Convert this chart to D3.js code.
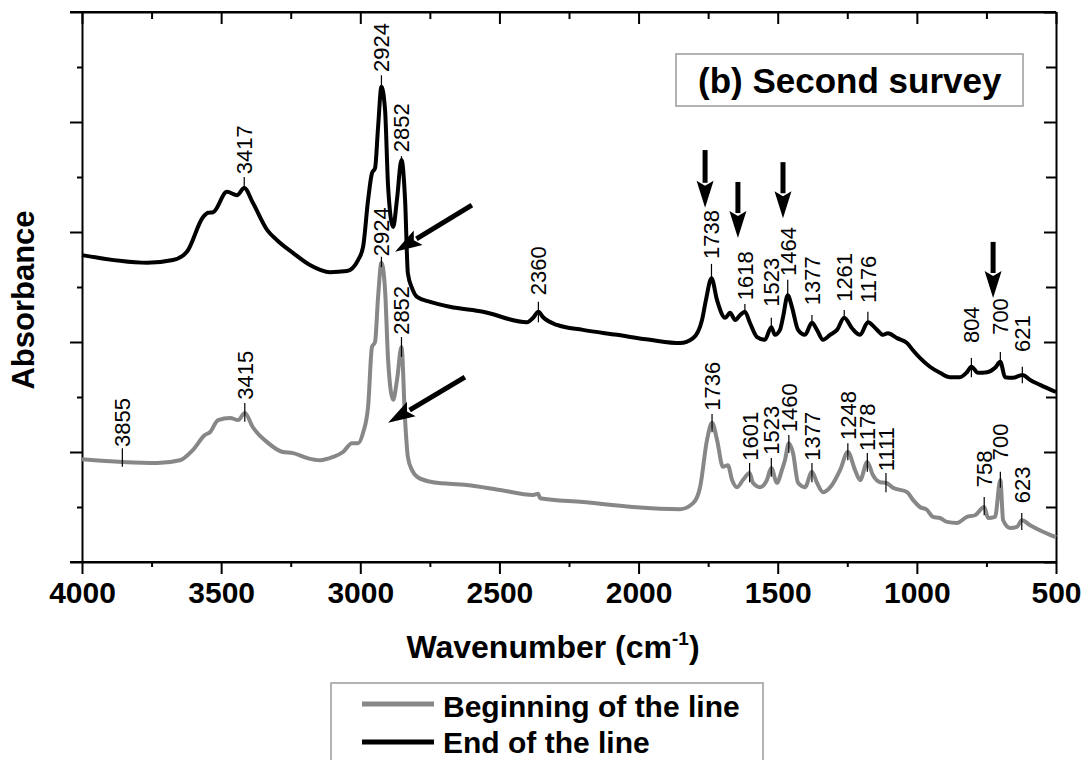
<!DOCTYPE html>
<html><head><meta charset="utf-8">
<script src="https://cdn.jsdelivr.net/npm/d3@7"></script>
<style>
body{margin:0;background:#fff}
text{font-family:"Liberation Sans",Arial,Helvetica,sans-serif;fill:#000}
</style>
</head><body>
<svg id="chart" width="1088" height="760"></svg>
<script>
// ---- data ----
const xTickValues = [4000,3500,3000,2500,2000,1500,1000,500];
const xMinorValues = [3750,3250,2750,2250,1750,1250,750];

const seriesNames = ["Beginning of the line","End of the line"];
const seriesColors = ["#878787","#000000"];

const endWn = [4000,3766,3673,3623,3565,3547,3529,3479,3443,3417,3386,3335,3299,3242,3181,3109,3048,3008,2990,2972,2958,2947,2936,2924,2911,2900,2882,2868,2852,2839,2829,2814,2796,2749,2678,2559,2401,2379,2360,2343,2293,2200,2078,1959,1851,1804,1772,1758,1738,1718,1689,1671,1653,1635,1618,1600,1574,1546,1523,1510,1492,1481,1464,1449,1427,1402,1377,1359,1337,1312,1287,1261,1233,1204,1176,1143,1122,1104,1071,1035,1014,989,953,917,881,845,820,804,780,748,719,700,683,655,621,593,557,500];
const endAbs = [5.58,5.44,5.49,5.64,6.27,6.35,6.36,6.73,6.67,6.80,6.53,6.04,5.85,5.62,5.40,5.27,5.29,5.49,5.73,6.58,7.07,7.16,7.91,8.64,8.22,6.82,6.09,6.60,7.31,6.58,5.25,4.98,4.82,4.73,4.64,4.55,4.36,4.44,4.55,4.45,4.31,4.22,4.13,4.04,3.98,4.07,4.40,4.76,5.16,4.76,4.44,4.53,4.40,4.49,4.55,4.35,4.09,4.04,4.27,4.13,4.22,4.45,4.85,4.64,4.22,4.13,4.35,4.22,4.04,4.13,4.22,4.44,4.25,4.13,4.36,4.22,4.13,4.16,4.07,3.98,3.85,3.71,3.55,3.44,3.36,3.36,3.45,3.55,3.44,3.45,3.53,3.64,3.36,3.35,3.40,3.31,3.22,3.09];

const beginWn = [4000,3855,3730,3648,3601,3558,3540,3511,3468,3439,3415,3386,3335,3278,3242,3191,3145,3098,3062,3030,3008,2990,2972,2958,2947,2936,2924,2911,2900,2882,2868,2852,2839,2829,2814,2796,2739,2617,2498,2379,2361,2354,2200,2020,1851,1804,1779,1754,1736,1718,1697,1679,1664,1646,1625,1601,1589,1564,1539,1523,1503,1485,1474,1460,1445,1427,1402,1377,1359,1337,1305,1276,1248,1222,1204,1178,1158,1132,1111,1086,1035,1014,989,964,942,917,892,856,820,791,758,744,719,700,690,665,640,623,593,547,500];
const beginAbs = [1.87,1.82,1.80,1.85,2.04,2.31,2.36,2.58,2.62,2.58,2.71,2.45,2.18,2.00,1.98,1.89,1.85,1.91,2.00,2.16,2.16,2.35,2.82,3.91,4.00,4.82,5.44,4.95,3.67,2.95,3.31,3.91,2.58,1.91,1.67,1.55,1.45,1.40,1.31,1.22,1.24,1.16,1.09,1.00,0.96,1.07,1.36,2.22,2.53,2.22,1.73,1.76,1.49,1.36,1.49,1.62,1.44,1.36,1.49,1.71,1.44,1.67,1.85,2.16,1.98,1.44,1.36,1.64,1.44,1.27,1.40,1.67,2.00,1.67,1.49,1.82,1.58,1.45,1.44,1.35,1.27,1.13,1.00,0.95,0.82,0.80,0.73,0.71,0.82,0.85,1.00,0.80,0.82,1.49,0.76,0.62,0.64,0.76,0.67,0.55,0.45];

// peak labels: wavenumber, text base (absorbance), tick top, tick bottom
const endLabelWn = [3417,2924,2852,2360,1738,1618,1523,1464,1377,1261,1176,804,700,621];
const endLabelBase = [7.05,8.91,7.45,4.85,5.51,4.76,4.64,5.20,4.67,4.73,4.71,3.98,4.13,3.82];
const endTickTop = [7.00,8.85,7.38,4.73,5.42,4.69,4.44,5.13,4.49,4.58,4.55,3.71,3.82,3.55];
const endTickBottom = [6.80,8.64,7.20,4.36,5.16,4.53,4.25,4.85,4.31,4.40,4.36,3.36,3.55,3.25];

const beginLabelWn = [3855,3415,2924,2852,1736,1601,1523,1460,1377,1248,1178,1111,758,700,623];
const beginLabelBase = [2.09,2.95,5.56,4.13,2.75,1.84,1.95,2.36,1.84,2.22,2.02,1.65,1.36,1.85,1.07];
const beginTickTop = [2.07,2.89,5.55,4.09,2.69,1.80,1.89,2.31,1.80,2.16,1.98,1.62,1.18,1.64,0.89];
const beginTickBottom = [1.73,2.55,5.36,3.73,2.36,1.45,1.55,1.98,1.45,1.85,1.64,1.27,0.85,1.35,0.58];

// annotation arrows (from -> to, in data units)
const arrowFromWn = [1761,1643,1481,726,2599,2624];
const arrowFromAbs = [7.49,6.91,7.27,5.82,6.49,3.36];
const arrowToWn = [1761,1643,1481,726,2875,2900];
const arrowToAbs = [6.44,5.89,6.25,4.80,5.64,2.53];

// ---- layout ----
const svg = d3.select("#chart");
const L = 82, R = 1056, T = 12, B = 562;
const x = d3.scaleLinear().domain([4000,500]).range([L,R]);
const y = d3.scaleLinear().domain([0,10]).range([B,T]);
const yMajor = [0,2,4,6,8,10], yMinor = [1,3,5,7,9];

function styleAxis(g){
  g.selectAll("path").attr("stroke","#000").attr("stroke-width",2);
  g.selectAll("line").attr("stroke","#000").attr("stroke-width",2);
}
// bottom axis
const gb = svg.append("g").attr("transform",`translate(0,${B})`)
  .call(d3.axisBottom(x).tickValues(xTickValues).tickSize(12).tickSizeOuter(0).tickPadding(8).tickFormat(d3.format("d")));
styleAxis(gb);
gb.selectAll("text").attr("font-size",30).attr("font-weight","bold").attr("font-family","Liberation Sans, Arial, sans-serif").attr("dy","0.71em");
const gbm = svg.append("g").attr("transform",`translate(0,${B})`)
  .call(d3.axisBottom(x).tickValues(xMinorValues).tickSize(5).tickFormat(""));
styleAxis(gbm); gbm.select("path").remove();
// top axis (ticks inward)
const gt = svg.append("g").attr("transform",`translate(0,${T})`)
  .call(d3.axisBottom(x).tickValues(xTickValues).tickSize(12).tickSizeOuter(0).tickFormat(""));
styleAxis(gt);
const gtm = svg.append("g").attr("transform",`translate(0,${T})`)
  .call(d3.axisBottom(x).tickValues(xMinorValues).tickSize(7).tickFormat(""));
styleAxis(gtm); gtm.select("path").remove();
// left axis
const gl = svg.append("g").attr("transform",`translate(${L},0)`)
  .call(d3.axisLeft(y).tickValues(yMajor).tickSize(12).tickSizeOuter(0).tickFormat(""));
styleAxis(gl);
const glm = svg.append("g").attr("transform",`translate(${L},0)`)
  .call(d3.axisLeft(y).tickValues(yMinor).tickSize(5).tickFormat(""));
styleAxis(glm); glm.select("path").remove();
// right axis (ticks inward)
const gr = svg.append("g").attr("transform",`translate(${R},0)`)
  .call(d3.axisLeft(y).tickValues(yMajor).tickSize(12).tickSizeOuter(0).tickFormat(""));
styleAxis(gr);
const grm = svg.append("g").attr("transform",`translate(${R},0)`)
  .call(d3.axisLeft(y).tickValues(yMinor).tickSize(10).tickFormat(""));
styleAxis(grm); grm.select("path").remove();
// extend top/bottom lines to the left tick
svg.append("line").attr("x1",L-12).attr("x2",R).attr("y1",T).attr("y2",T).attr("stroke","#000").attr("stroke-width",2);
svg.append("line").attr("x1",L-12).attr("x2",R).attr("y1",B).attr("y2",B).attr("stroke","#000").attr("stroke-width",2);

// axis titles
const xt = svg.append("text").attr("x",553).attr("y",658).attr("text-anchor","middle")
  .attr("font-size",32).attr("font-weight","bold");
xt.append("tspan").text("Wavenumber (cm");
xt.append("tspan").attr("font-size",19).attr("dy",-13).text("-1");
xt.append("tspan").attr("dy",13).text(")");
svg.append("text").attr("transform","translate(34,300) rotate(-90)").attr("text-anchor","middle")
  .attr("font-size",31).attr("font-weight","bold").text("Absorbance");

// curves
const line = d3.line().x(d=>x(d[0])).y(d=>y(d[1])).curve(d3.curveMonotoneX);
const beginData = beginWn.map((w,i)=>[w,beginAbs[i]]);
const endData = endWn.map((w,i)=>[w,endAbs[i]]);
svg.append("path").datum(beginData).attr("d",line).attr("fill","none")
  .attr("stroke",seriesColors[0]).attr("stroke-width",4).attr("stroke-linejoin","round");
svg.append("path").datum(endData).attr("d",line).attr("fill","none")
  .attr("stroke",seriesColors[1]).attr("stroke-width",4).attr("stroke-linejoin","round");

// peak labels
function drawLabels(wn, base, tTop, tBot){
  const g = svg.append("g");
  wn.forEach((w,i)=>{
    g.append("line").attr("x1",x(w)).attr("x2",x(w)).attr("y1",y(tTop[i])).attr("y2",y(tBot[i]))
      .attr("stroke","#000").attr("stroke-width",1.2);
    g.append("text").attr("transform",`translate(${x(w)},${y(base[i])}) rotate(-90)`)
      .attr("text-anchor","start").attr("dy","0.36em").attr("font-size",22).text(w);
  });
}
drawLabels(endLabelWn,endLabelBase,endTickTop,endTickBottom);
drawLabels(beginLabelWn,beginLabelBase,beginTickTop,beginTickBottom);

// arrows
arrowFromWn.forEach((w,i)=>{
  const x1 = x(w), y1 = y(arrowFromAbs[i]), x2 = x(arrowToWn[i]), y2 = y(arrowToAbs[i]);
  const dx = x2-x1, dy = y2-y1, len = Math.hypot(dx,dy), ux = dx/len, uy = dy/len;
  const hl = 27, hw = 8.5;
  const bx = x2-ux*hl, by = y2-uy*hl;
  svg.append("line").attr("x1",x1).attr("y1",y1).attr("x2",bx+ux*2).attr("y2",by+uy*2)
    .attr("stroke","#000").attr("stroke-width",5);
  svg.append("polygon").attr("points",[[x2,y2],[bx-uy*hw,by+ux*hw],[bx+ux*5,by+uy*5],[bx+uy*hw,by-ux*hw]].map(p=>p.join(",")).join(" "))
    .attr("fill","#000");
});

// title box
svg.append("rect").attr("x",676).attr("y",54).attr("width",347).attr("height",52)
  .attr("fill","#fff").attr("stroke","#9a9a9a").attr("stroke-width",1.5);
svg.append("text").attr("x",698).attr("y",93).attr("font-size",35).attr("font-weight","bold").text("(b) Second survey");

// legend
svg.append("rect").attr("x",331).attr("y",683).attr("width",432).attr("height",120)
  .attr("fill","#fff").attr("stroke","#9a9a9a").attr("stroke-width",1.5);
const legY = [704,742], legTextY = [717,753];
seriesNames.forEach((n,i)=>{
  svg.append("line").attr("x1",362).attr("x2",434).attr("y1",legY[i]).attr("y2",legY[i])
    .attr("stroke",seriesColors[i]).attr("stroke-width",5);
  svg.append("text").attr("x",443).attr("y",legTextY[i]).attr("font-size",30).attr("font-weight","bold").text(n);
});
</script>
</body></html>
